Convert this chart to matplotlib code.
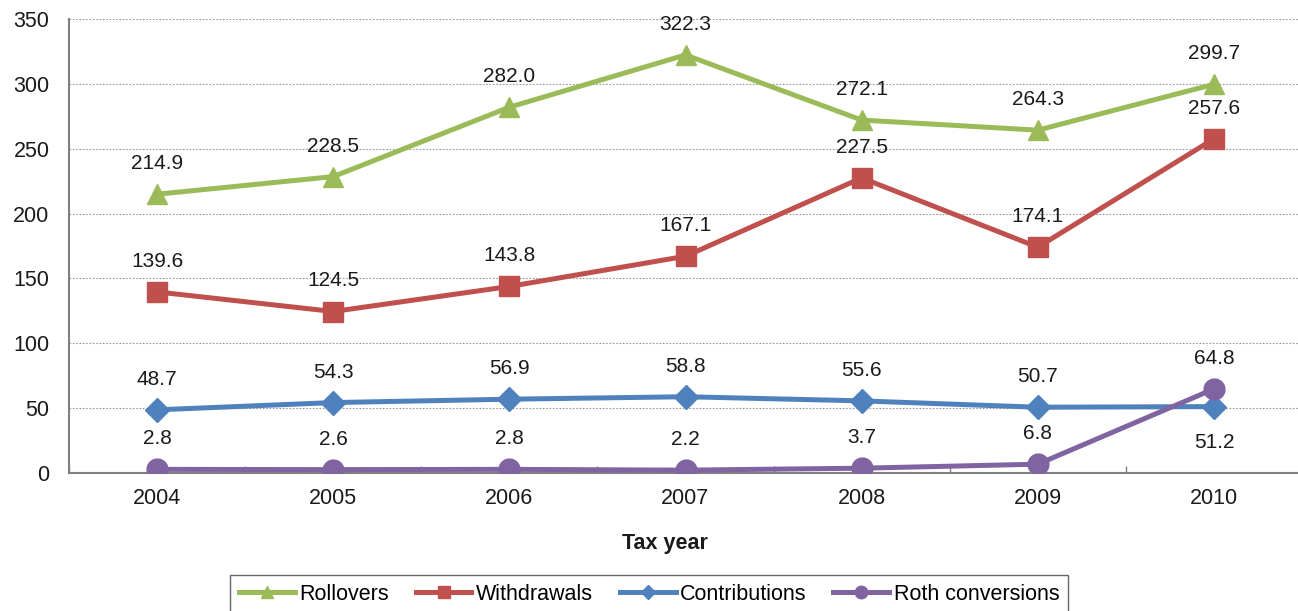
import matplotlib
matplotlib.use("Agg")
import matplotlib.pyplot as plt
from matplotlib.lines import Line2D

years = ["2004", "2005", "2006", "2007", "2008", "2009", "2010"]
rollovers = [214.9, 228.5, 282.0, 322.3, 272.1, 264.3, 299.7]
withdrawals = [139.6, 124.5, 143.8, 167.1, 227.5, 174.1, 257.6]
contributions = [48.7, 54.3, 56.9, 58.8, 55.6, 50.7, 51.2]
roth = [2.8, 2.6, 2.8, 2.2, 3.7, 6.8, 64.8]
yticks = [0, 50, 100, 150, 200, 250, 300, 350]

plt.rcParams['font.family'] = ['Liberation Sans', 'DejaVu Sans']

W, H = 1298, 611
fig = plt.figure(figsize=(W / 100, H / 100), dpi=100)
ax = fig.add_axes([69 / W, 1 - 473 / H, (1302 - 69) / W, (473 - 19) / H])

FS = 15.5
TXT = "#1a1a1a"

x = list(range(len(years)))
series = [
    ("Rollovers", rollovers, "#9BBB59", "^", 15),
    ("Withdrawals", withdrawals, "#C0504D", "s", 14.5),
    ("Contributions", contributions, "#4F81BD", "D", 12),
    ("Roth conversions", roth, "#8064A2", "o", 15),
]

for name, vals, col, mk, ms in series:
    ax.plot(x, vals, color=col, lw=3.6, marker=mk, markersize=ms,
            markeredgecolor=col, zorder=3)

for name, vals, col, mk, ms in series:
    for i, v in enumerate(vals):
        off = 22
        if name == "Contributions" and i == 6:
            off = -26
        ax.annotate(f"{v:.1f}", (i, v), xytext=(0, off), textcoords="offset points",
                    ha="center", va="center", fontsize=15, color=TXT, zorder=4)

ax.set_xlim(-0.5, len(years) - 0.5)
ax.set_ylim(0, 350)
ax.set_yticks(yticks)
ax.set_xticks(x)
ax.set_xticklabels(years)
ax.set_xticks([i + 0.5 for i in range(-1, len(years))], minor=True)
ax.tick_params(axis="x", which="major", length=0, pad=11, labelsize=FS, colors=TXT)
ax.tick_params(axis="x", which="minor", direction="in", length=5, color="#808080", width=1)
ax.tick_params(axis="y", length=0, pad=14, labelsize=FS, colors=TXT)

ax.grid(axis="y", color="#9a9a9a", linestyle=(0, (1.5, 1.5)), linewidth=0.8)
ax.set_axisbelow(True)
for s in ["top", "right"]:
    ax.spines[s].set_visible(False)
for s in ["left", "bottom"]:
    ax.spines[s].set_color("#808080")
    ax.spines[s].set_linewidth(1.5)

fig.text(665 / W, 1 - 543 / H, "Tax year", ha="center", va="center",
         fontsize=FS, fontweight="bold", color=TXT)

handles = [Line2D([0], [0], color=col, lw=3.6, marker=mk, markersize=ms * 0.6,
                  markeredgecolor=col) for _, _, col, mk, ms in series]
labels = [s[0] for s in series]
leg = fig.legend(handles, labels, loc="upper center", bbox_to_anchor=(649 / W, 1 - 575 / H),
                 ncol=4, fontsize=FS, frameon=True, fancybox=False,
                 handlelength=2.6, handletextpad=0.2, columnspacing=1.25,
                 borderpad=0.4, borderaxespad=0)
leg.get_frame().set_edgecolor("#404040")
leg.get_frame().set_linewidth(1.0)

fig.savefig("out.png", dpi=100)
